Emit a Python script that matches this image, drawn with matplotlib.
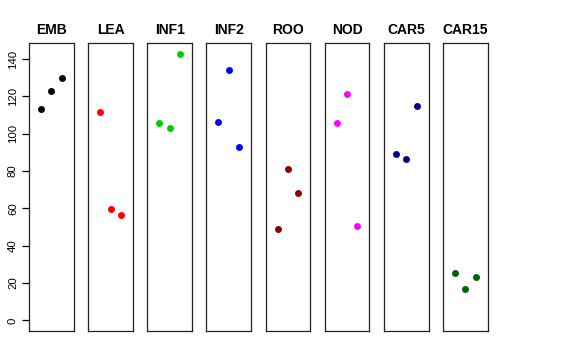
import matplotlib
matplotlib.use("Agg")
import matplotlib.pyplot as plt

# panel names, colours and the three values shown in each panel
groups = ["EMB", "LEA", "INF1", "INF2", "ROO", "NOD", "CAR5", "CAR15"]
colors = ["black", "red", "#00CD00", "blue", "#8B0000", "magenta", "#000080", "#006400"]
pos = [1, 2, 3]
emb = [113.1, 122.6, 129.6]
lea = [111.4, 59.5, 56.5]
inf1 = [105.8, 103.0, 142.7]
inf2 = [106.0, 134.2, 92.7]
roo = [49.0, 80.9, 68.4]
nod = [105.5, 121.2, 50.6]
car5 = [89.3, 86.6, 114.6]
car15 = [25.1, 16.6, 23.2]
values = [emb, lea, inf1, inf2, roo, nod, car5, car15]
yticks = [0, 20, 40, 60, 80, 100, 120, 140]

plt.rcParams['font.family'] = ['Liberation Sans', 'DejaVu Sans']

W, H = 576, 360
fig = plt.figure(figsize=(W / 100, H / 100), dpi=100)

top, bottom = 43.3, 331.0
left0, step, width = 29.0, 59.15, 44.7

ymax = max(max(v) for v in values)
ylo, yhi = 0 - 0.04 * ymax, ymax * 1.04
xlo, xhi = 0 - 0.16, 4 + 0.16

for i, (name, col, vals) in enumerate(zip(groups, colors, values)):
    x = left0 + i * step
    ax = fig.add_axes([x / W, (H - bottom) / H, width / W, (bottom - top) / H])
    ax.plot(pos, vals, 'o', color=col, markersize=5, markeredgewidth=0)
    ax.set_xlim(xlo, xhi)
    ax.set_ylim(ylo, yhi)
    ax.set_xticks([])
    for s in ax.spines.values():
        s.set_linewidth(0.9)
        s.set_color('#222222')
    ax.set_title(name, fontsize=10, fontweight='bold', pad=7)
    if i == 0:
        ax.set_yticks(yticks)
        ax.tick_params(axis='y', length=5, width=0.9, labelsize=8.2, pad=3)
        for lab in ax.get_yticklabels():
            lab.set_rotation(90)
            lab.set_va('center')
    else:
        ax.set_yticks([])

fig.savefig("out.png", dpi=100)
